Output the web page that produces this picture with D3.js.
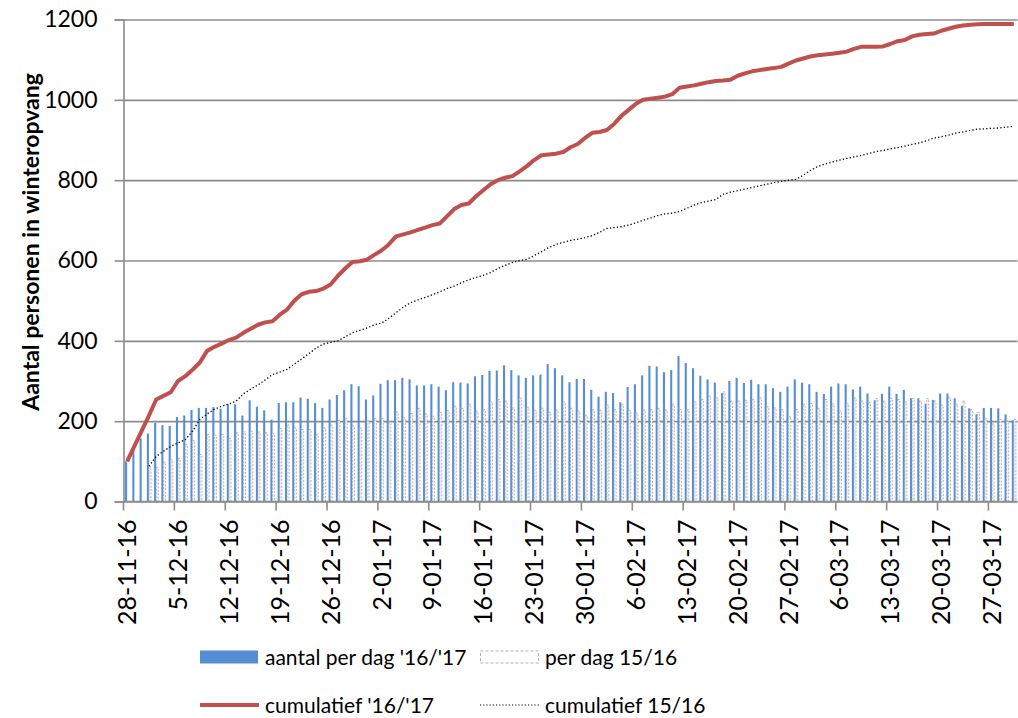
<!DOCTYPE html>
<html>
<head>
<meta charset="utf-8">
<script src="https://cdn.jsdelivr.net/npm/d3@7"></script>
<style>
  body { margin: 0; background: #fff; }
  text { font-family: Lato, "Open Sans", sans-serif; fill: #000; }
</style>
</head>
<body>
<svg id="chart" width="1018" height="718"></svg>
<script>
// dagen 28-11-16 t/m 30-03-17
var days = d3.timeDay.range(new Date(2016, 10, 28), new Date(2017, 2, 31));

var perDag1617 = [
  100,129,157,169,196,190,188,210,214,228, 233,233,235,231,242,242,214,252,236,227,
  204,245,247,247,259,256,245,233,254,265, 277,292,287,254,264,293,302,302,
  308,304,289,289,292,286,277,297,296,294, 312,315,325,326,339,327,314,308,314,316,
  342,332,314,297,305,305,278,261,273,270, 247,285,292,314,338,336,322,327,362,
  345,332,313,304,296,270,300,308,295,303, 292,292,282,273,286,304,296,292,273,268,
  286,294,292,279,286,269,252,268,286,268, 278,257,257,243,253,269,269,257,238,232,
  217,233,233,232,217,202
];

var perDag1516 = [
  null,null,null,
  87,85,98,104,107,142,152,117,167,165, 167,157,171,173,175,173,171,169,182,190,
  183,179,179,167,183,190,202,207,188,183, 200,
  207,207,198,223,
  208,219,232,218,212,222,227,237,232,242, 225,229,248,254,250,233,257,235,227,232,
  222,228,248,232,225,215,229,227,240,229, 242,227,220,228,229,232,228,242,229,
  229,248,254,262,258,273,250,250,252,254, 258,236,233,229,212,229,242,244,232,254,
  243,225,243,258,250,246,256,250,257,254, 248,257,250,256,250,240,258,242,250,229,
  222,207,193,204,200,204
];

var cum1617 = [
  100,138,176,214,254,263,272,300,312,328, 346,375,385,393,402,408,420,430,440,446,
  449,465,478,500,516,522,524,530,540,562, 580,596,598,602,614,625,640,660,665,670,
  676,682,688,692,710,728,738,742,760,775, 790,800,806,810,822,835,850,862,864,866,
  870,882,890,905,918,920,925,940,960,975, 990,1000,1003,1005,1008,1014,1030,1033,1036,1040,
  1044,1047,1048,1050,1060,1066,1071,1074,1077,1079, 1082,1090,1098,1103,1108,1111,1113,1115,1117,1120,
  1127,1132,1132,1132,1133,1139,1146,1149,1158,1162, 1164,1165,1172,1177,1182,1185,1187,1188,1189,1189,
  1189,1189,1189
];

var cum1516 = [
  null,null,null,
  88,112,125,137,146,154,175,204,218,230, 237,243,250,268,280,290,303,316,322,329,
  342,355,368,382,392,396,400,410,420,426, 432,440,
  444,456,470,484,495,502,508,515,522,530, 536,545,552,558,563,570,580,588,595,600,
  603,612,622,632,640,645,650,653,657,662, 670,680,682,684,688,694,700,706,712,716,
  718,722,730,738,744,748,752,765,770,774, 778,782,786,790,794,797,800,802,812,824,
  834,840,845,850,854,858,862,866,871,874, 878,881,885,889,893,898,905,908,912,917,
  920,924,927,928,929,930,932,934
];

var yTicks = [0, 200, 400, 600, 800, 1000, 1200];
var yTitle = "Aantal personen in winteropvang";
var legendItems = [
  {name: "aantal per dag '16/'17", type: "bar1617"},
  {name: "per dag 15/16", type: "bar1516"},
  {name: "cumulatief '16/'17", type: "line1617"},
  {name: "cumulatief 15/16", type: "line1516"}
];

var svg = d3.select("#chart");
var plotL = 123.5, plotR = 1017.5, plotT = 19.5, plotB = 501.5;
var gridColor = "#8c8c8c";

var x = d3.scaleBand().domain(days).range([plotL, plotR]).padding(0);
var xSub = d3.scaleBand().domain(["a", "b"]).range([0, x.bandwidth()])
    .paddingInner(0).paddingOuter(0.75);
var y = d3.scaleLinear().domain([0, 1200]).range([plotB, plotT]);
var fmt = d3.timeFormat("%-d-%m-%y");

// rasterlijnen
svg.append("g")
    .attr("transform", "translate(" + plotL + ",0)")
    .call(d3.axisLeft(y).tickValues(yTicks).tickSize(-(plotR - plotL)).tickFormat(""))
    .call(function (g) {
        g.select(".domain").remove();
        g.selectAll("line").attr("stroke", gridColor).attr("stroke-width", 1.6);
    });

// y-as
svg.append("g")
    .attr("transform", "translate(" + plotL + ",0)")
    .call(d3.axisLeft(y).tickValues(yTicks).tickSize(9).tickPadding(17).tickFormat(d3.format("d")))
    .call(function (g) {
        g.select(".domain").attr("stroke", gridColor).attr("stroke-width", 1.6);
        g.selectAll("line").attr("stroke", gridColor).attr("stroke-width", 1.6);
        g.selectAll("text").attr("font-size", 23).attr("font-family", "Lato");
    });

// staven
var idx = d3.range(days.length);
svg.append("g").selectAll("rect")
    .data(idx.filter(function (i) { return perDag1617[i] != null; }))
    .join("rect")
    .attr("x", function (i) { return x(days[i]) + xSub("a"); })
    .attr("width", xSub.bandwidth())
    .attr("y", function (i) { return y(perDag1617[i]); })
    .attr("height", function (i) { return y(0) - y(perDag1617[i]); })
    .attr("fill", "#558ed5");

svg.append("g").selectAll("rect")
    .data(idx.filter(function (i) { return perDag1516[i] != null; }))
    .join("rect")
    .attr("x", function (i) { return x(days[i]) + xSub("b"); })
    .attr("width", xSub.bandwidth())
    .attr("y", function (i) { return y(perDag1516[i]); })
    .attr("height", function (i) { return y(0) - y(perDag1516[i]); })
    .attr("fill", "#f4f4f4")
    .attr("stroke", "#a6a6a6")
    .attr("stroke-width", 0.8)
    .attr("stroke-dasharray", "2,1.5");

// x-as
svg.append("line")
    .attr("x1", plotL).attr("x2", plotR).attr("y1", plotB).attr("y2", plotB)
    .attr("stroke", gridColor).attr("stroke-width", 1.6);

var tickDays = days.filter(function (d, i) { return i % 7 === 0; });
svg.append("g").selectAll("line")
    .data(tickDays)
    .join("line")
    .attr("x1", function (d) { return x(d); })
    .attr("x2", function (d) { return x(d); })
    .attr("y1", plotB).attr("y2", plotB + 9)
    .attr("stroke", gridColor).attr("stroke-width", 1.6);

svg.append("g").selectAll("text")
    .data(tickDays)
    .join("text")
    .attr("transform", function (d) {
        return "translate(" + (x(d) + x.bandwidth() / 2) + "," + (plotB + 18) + ") rotate(-90)";
    })
    .attr("text-anchor", "end")
    .attr("dy", "0.36em")
    .attr("font-size", 25)
    .text(fmt);

// lijnen
var line = d3.line()
    .defined(function (d) { return d != null; })
    .x(function (d, i) { return x(days[i]) + x.bandwidth() / 2; })
    .y(function (d) { return y(d); });

svg.append("path")
    .datum(cum1516)
    .attr("d", line)
    .attr("fill", "none")
    .attr("stroke", "#000")
    .attr("stroke-width", 1.3)
    .attr("stroke-dasharray", "1.3,2.2");

svg.append("path")
    .datum(cum1617)
    .attr("d", line)
    .attr("fill", "none")
    .attr("stroke", "#c0504d")
    .attr("stroke-width", 4)
    .attr("stroke-linejoin", "round");

// y-titel
svg.append("text")
    .attr("transform", "translate(31,242) rotate(-90)")
    .attr("text-anchor", "middle")
    .attr("dy", "0.36em")
    .attr("font-size", 23)
    .attr("font-weight", "bold")
    .text(yTitle);

// legenda
var legPos = [[200, 657], [480, 657], [200, 705], [480, 705]];
var leg = svg.append("g").selectAll("g")
    .data(legendItems)
    .join("g")
    .attr("transform", function (d, i) { return "translate(" + legPos[i][0] + "," + legPos[i][1] + ")"; });

leg.each(function (d) {
    var g = d3.select(this);
    if (d.type === "bar1617") {
        g.append("rect").attr("x", 0).attr("y", -6.5).attr("width", 58).attr("height", 13).attr("fill", "#558ed5");
    } else if (d.type === "bar1516") {
        g.append("rect").attr("x", 0.5).attr("y", -6).attr("width", 58).attr("height", 12)
            .attr("fill", "#fff").attr("stroke", "#b0b0b0").attr("stroke-width", 1).attr("stroke-dasharray", "3,2");
    } else if (d.type === "line1617") {
        g.append("line").attr("x1", 0).attr("x2", 59).attr("stroke", "#c0504d").attr("stroke-width", 4);
    } else {
        g.append("line").attr("x1", 0).attr("x2", 59).attr("stroke", "#000").attr("stroke-width", 1.2).attr("stroke-dasharray", "1.2,2");
    }
    g.append("text").attr("x", 65).attr("dy", "0.36em").attr("font-size", 21).text(d.name);
});
</script>
</body>
</html>
